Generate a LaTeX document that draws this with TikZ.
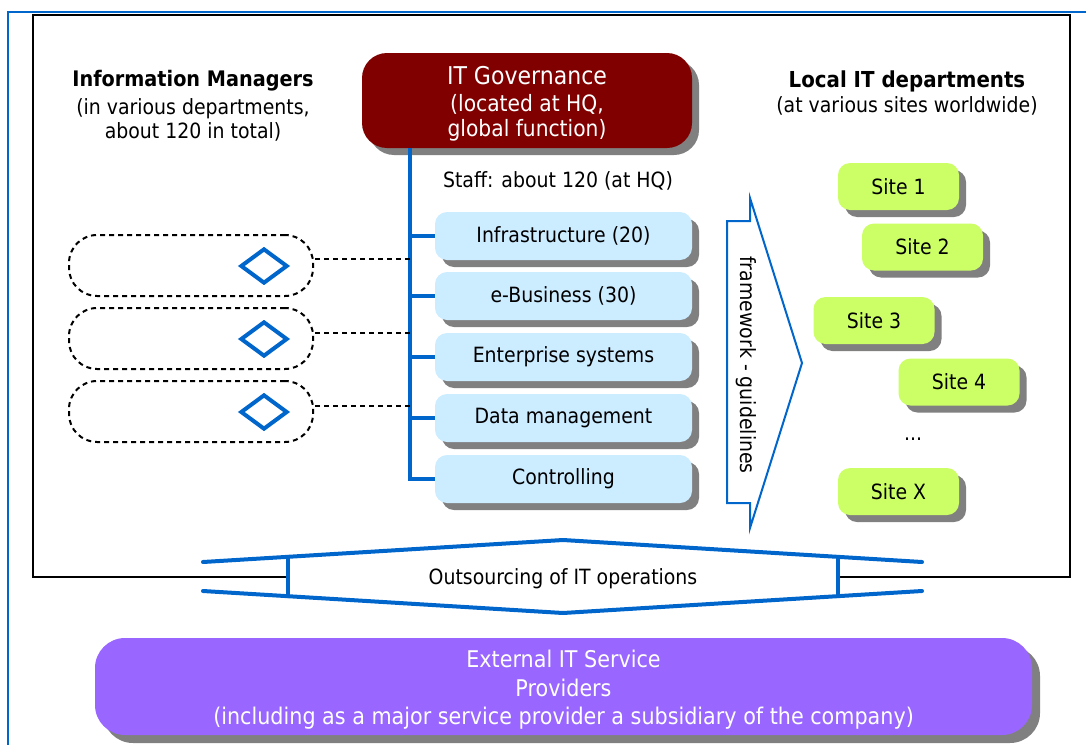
\documentclass[tikz,border=0pt]{standalone}
\usepackage{fontspec}
\setmainfont{DejaVu Sans}[FakeStretch=0.9]
\usetikzlibrary{shapes.geometric,shadows}
\definecolor{itblue}{HTML}{0066CC}
\definecolor{govred}{HTML}{800000}
\definecolor{deptblue}{HTML}{CCECFF}
\definecolor{sitegreen}{HTML}{CCFF66}
\definecolor{extpurple}{HTML}{9966FF}
\definecolor{shadowgray}{HTML}{808080}
\newcommand{\fs}[2]{\fontsize{#1}{#2}\selectfont}
\newcommand{\lowerline}[1]{\raisebox{-3pt}[\height][\depth]{#1}}
\begin{document}
\begin{tikzpicture}[x=1pt,y=-1pt,
  shadowed/.style={drop shadow={shadow xshift=7pt,shadow yshift=-7pt,fill=shadowgray,opacity=1}},
  govbox/.style={shadowed,fill=govred,text=white,rounded corners=25pt,minimum width=330pt,minimum height=95pt,inner sep=0pt,align=center,font=\fs{22.5}{25}},
  deptbox/.style={shadowed,fill=deptblue,rounded corners=12pt,minimum width=257pt,minimum height=48pt,inner sep=0pt,font=\fs{21}{24}},
  sitebox/.style={shadowed,fill=sitegreen,rounded corners=12pt,minimum width=121pt,minimum height=47pt,inner sep=0pt,font=\fs{21}{24}},
  extbox/.style={drop shadow={shadow xshift=8pt,shadow yshift=-8pt,fill=shadowgray,opacity=1},fill=extpurple,text=white,rounded corners=30pt,minimum width=937pt,minimum height=97pt,inner sep=0pt,align=center,font=\fs{23}{28}},
  imbox/.style={draw=black,line width=2pt,dash pattern=on 5pt off 4pt,rounded corners=28pt,minimum width=244pt,minimum height=61pt,inner sep=0pt},
  imdiamond/.style={diamond,draw=itblue,line width=4pt,aspect=1.3,minimum width=47pt,minimum height=35pt,inner sep=0pt},
  trunk/.style={draw=itblue,line width=4pt},
  dashlink/.style={draw=black,line width=2pt,dash pattern=on 5pt off 4pt},
  blueline/.style={draw=itblue,line width=4pt,line cap=round,line join=round},
  heading/.style={align=center,inner sep=0pt,font=\fs{21}{24.5}},
  plain/.style={inner sep=0pt,font=\fs{21}{24}}]
\useasboundingbox (0,0) rectangle (1086,744);
\clip (0,0) rectangle (1086,744);
% frames
\draw[itblue,line width=2pt] (8,12) rectangle (1100,770);
\draw[black,line width=2pt] (33,15) rectangle (1070,577);
% headings
\node[heading] (imhead) at (193,106) {{\fs{21.4}{24.5}\bfseries Information Managers}\\[3pt](in various departments,\\about 120 in total)};
\node[heading] (lochead) at (907,93) {{\fs{22}{24.5}\bfseries Local IT departments}\\(at various sites worldwide)};
% governance
\node[govbox] (gov) at (527,100.5) {\lowerline{\fs{24.5}{25}IT Governance}\\[2pt]\lowerline{(located at HQ,}\\\lowerline{global function)}};
\node[plain] (staff) at (558,181) {Staff: about 120 (at HQ)};
% departments
\node[deptbox] (d1) at (563.5,236) {Infrastructure (20)};
\node[deptbox] (d2) at (563.5,296) {e-Business (30)};
\node[deptbox] (d3) at (563.5,357) {Enterprise systems};
\node[deptbox] (d4) at (563.5,418) {Data management};
\node[deptbox] (d5) at (563.5,479) {Controlling};
\coordinate (t0) at (410,148);
\draw[trunk] (t0) |- (d5.west);
\foreach \d in {d1,d2,d3,d4}{\draw[trunk] (\d.west -| t0) -- (\d.west);}
% information managers
\node[imbox] (im1) at (191,265.5) {};
\node[imbox] (im2) at (191,338.5) {};
\node[imbox] (im3) at (191,411.5) {};
\node[imdiamond] (dm1) at (264,266) {};
\node[imdiamond] (dm2) at (264,339) {};
\node[imdiamond] (dm3) at (264,412) {};
\coordinate (c1) at (410,259);
\coordinate (c2) at (410,333);
\coordinate (c3) at (410,406);
\draw[dashlink] (c1) -- (c1 -| im1.east);
\draw[dashlink] (c2) -- (c2 -| im2.east);
\draw[dashlink] (c3) -- (c3 -| im3.east);
% framework arrow
\draw[itblue,line width=2pt,fill=white,line join=miter] (727,221) -- (750,221) -- (750,198) -- (802,363) -- (750,528) -- (750,503) -- (727,503) -- cycle;
\node[plain,rotate=-90] (fw) at (746,365) {framework - guidelines};
% sites
\node[sitebox] (s1) at (898.5,186.5) {Site 1};
\node[sitebox] (s2) at (922.5,247) {Site 2};
\node[sitebox] (s3) at (874,320.5) {Site 3};
\node[sitebox] (s4) at (959,382) {Site 4};
\node[plain] (dots) at (913,439) {...};
\node[sitebox] (sx) at (898.5,491.5) {Site X};
% outsourcing
\fill[white] (288,556.8) -- (563,540) -- (838,556.9) -- (838,596.1) -- (563,613) -- (288,596.2) -- cycle;
\draw[blueline] (203,562) -- (563,540) -- (922,562);
\draw[blueline] (203,591) -- (563,613) -- (922,591);
\draw[blueline] (288,556.8) -- (288,596.2);
\draw[blueline] (838,556.9) -- (838,596.1);
\node[plain] (out) at (563,579) {Outsourcing of IT operations};
% external providers
\node[extbox] (ext) at (563.5,686.5) {\lowerline{External IT Service}\\[1pt]\lowerline{Providers}\\\lowerline{(including as a major service provider a subsidiary of the company)}};
\end{tikzpicture}
\end{document}
